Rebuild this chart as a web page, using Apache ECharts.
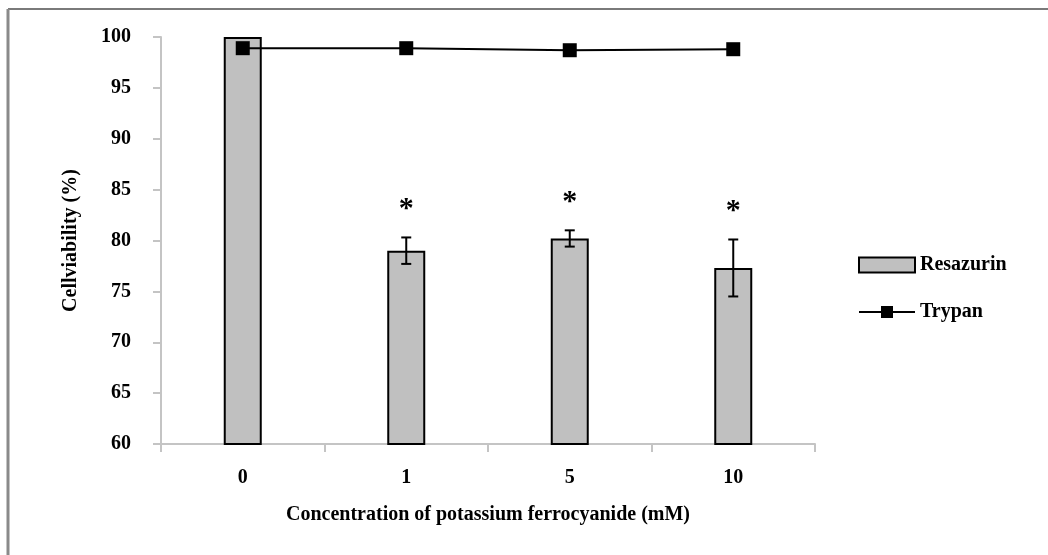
<!DOCTYPE html>
<html>
<head>
<meta charset="utf-8">
<script src="https://cdn.jsdelivr.net/npm/echarts@6/dist/echarts.min.js"></script>
<style>
html,body{margin:0;padding:0;background:#fff;}
#chart{width:1048px;height:555px;}
</style>
</head>
<body>
<div id="chart"></div>
<script>
var categories = ['0', '1', '5', '10'];
var resazurin = [100, 79.0, 80.2, 77.3];
var resazurinErr = [0, 1.3, 0.8, 2.8];
var significance = ['', '*', '*', '*'];
var trypan = [98.9, 98.9, 98.7, 98.8];
var yTicks = {min: 60, max: 100, interval: 5};

var FONT = '"Liberation Serif", "Times New Roman", serif';
var chart = echarts.init(document.getElementById('chart'));

var errData = categories.map(function (c, i) {
  return [i, resazurin[i], resazurinErr[i]];
});

chart.setOption({
  animation: false,
  backgroundColor: '#fff',
  graphic: [
    {type: 'line', shape: {x1: 8, y1: 9, x2: 1048, y2: 9}, style: {stroke: '#7a7a7a', lineWidth: 2}},
    {type: 'line', shape: {x1: 8, y1: 9, x2: 8, y2: 555}, style: {stroke: '#8a8a8a', lineWidth: 3}}
  ],
  grid: {left: 161, right: 233, top: 37, bottom: 111},
  legend: {
    orient: 'vertical', left: 853, top: 250,
    itemWidth: 56, itemHeight: 15, itemGap: 27,
    textStyle: {fontFamily: FONT, fontWeight: 'bold', fontSize: 20, color: '#000'},
    data: [{name: 'Resazurin', icon: 'rect'}, {name: 'Trypan'}]
  },
  xAxis: {
    type: 'category', data: categories,
    name: 'Concentration of potassium ferrocyanide (mM)',
    nameLocation: 'middle', nameGap: 61,
    nameTextStyle: {fontFamily: FONT, fontWeight: 'bold', fontSize: 20, color: '#000'},
    axisLine: {lineStyle: {color: '#c4c4c4', width: 2}},
    axisTick: {show: true, length: 8, interval: 0, lineStyle: {color: '#c4c4c4', width: 2}},
    axisLabel: {margin: 24, fontFamily: FONT, fontWeight: 'bold', fontSize: 20, color: '#000'}
  },
  yAxis: {
    type: 'value', min: yTicks.min, max: yTicks.max, interval: yTicks.interval,
    name: 'Cellviability (%)', nameLocation: 'middle', nameGap: 80,
    nameTextStyle: {fontFamily: FONT, fontWeight: 'bold', fontSize: 20, color: '#000'},
    axisLine: {show: true, lineStyle: {color: '#c4c4c4', width: 2}},
    axisTick: {show: true, length: 8, lineStyle: {color: '#c4c4c4', width: 2}},
    splitLine: {show: false},
    axisLabel: {margin: 30, fontFamily: FONT, fontWeight: 'bold', fontSize: 20, color: '#000'}
  },
  series: [
    {
      name: 'Resazurin', type: 'bar', data: resazurin, barWidth: 38,
      itemStyle: {color: '#c0c0c0', borderColor: '#000', borderWidth: 2},
      z: 2
    },
    {
      name: 'ErrorBars', type: 'custom', data: errData, z: 3,
      renderItem: function (params, api) {
        var x = api.value(0), v = api.value(1), e = api.value(2);
        var star = significance[params.dataIndex];
        var top = api.coord([x, v + e]);
        var bot = api.coord([x, v - e]);
        var children = [];
        if (e > 0) {
          var hw = 5;
          var st = {stroke: '#000', lineWidth: 2};
          children.push({type: 'line', shape: {x1: top[0], y1: top[1], x2: bot[0], y2: bot[1]}, style: st});
          children.push({type: 'line', shape: {x1: top[0] - hw, y1: top[1], x2: top[0] + hw, y2: top[1]}, style: st});
          children.push({type: 'line', shape: {x1: bot[0] - hw, y1: bot[1], x2: bot[0] + hw, y2: bot[1]}, style: st});
        }
        if (star) {
          children.push({type: 'text', x: top[0], y: top[1] - 28,
            style: {text: star, fontFamily: FONT, fontWeight: 'bold', fontSize: 30, fill: '#000', align: 'center', verticalAlign: 'middle'}});
        }
        return {type: 'group', children: children};
      }
    },
    {
      name: 'Trypan', type: 'line', data: trypan,
      symbol: 'rect', symbolSize: 14,
      lineStyle: {color: '#000', width: 2},
      itemStyle: {color: '#000'},
      z: 4
    }
  ]
});
</script>
</body>
</html>
